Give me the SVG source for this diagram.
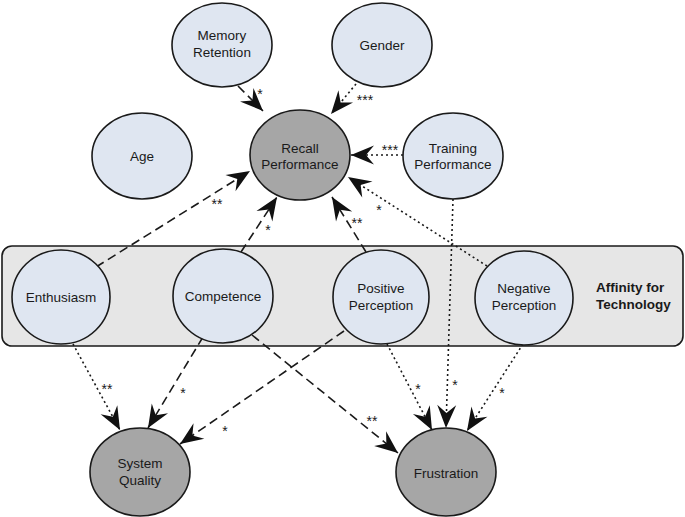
<svg xmlns="http://www.w3.org/2000/svg" width="685" height="517" viewBox="0 0 685 517">
<defs>
<marker id="ah" viewBox="-24 -10 25 20" markerWidth="25" markerHeight="20" refX="0" refY="0" markerUnits="userSpaceOnUse" orient="auto">
<path d="M0,0 L-23,-9.5 L-15,0 L-23,9.5 Z" fill="#111"/>
</marker>
</defs>
<style>
.light{fill:#dfe6f1;stroke:#1a1a1a;stroke-width:1.6}
.dark{fill:#a6a6a6;stroke:#1a1a1a;stroke-width:1.6}
.t{font-family:"Liberation Sans",Arial,sans-serif;font-size:13.5px;fill:#1a1a1a;text-anchor:middle}
.b{font-family:"Liberation Sans",Arial,sans-serif;font-size:13.5px;font-weight:bold;fill:#1a1a1a}
.dash{fill:none;stroke:#1a1a1a;stroke-width:1.6;stroke-dasharray:9 5;marker-end:url(#ah)}
.dot{fill:none;stroke:#1a1a1a;stroke-width:1.6;stroke-dasharray:2 3;marker-end:url(#ah)}
.s{font-family:"Liberation Sans",Arial,sans-serif;font-size:14px;fill:#1a1a1a;text-anchor:middle}
</style>
<rect width="685" height="517" fill="#fff"/>
<g id="affinity">
<rect x="2" y="246" width="681" height="100" rx="10" fill="#e6e6e6" stroke="#1a1a1a" stroke-width="1.6"/>
<text class="b" x="596" y="292">Affinity for</text>
<text class="b" x="596" y="309">Technology</text>
</g>
<g id="connectors">
<line class="dash" x1="238" y1="86" x2="263" y2="111"/>
<line class="dot" x1="356" y1="84" x2="331" y2="114"/>
<line class="dot" x1="403" y1="155" x2="351" y2="155"/>
<line class="dot" x1="487" y1="266" x2="348" y2="177"/>
<line class="dash" x1="366" y1="252" x2="332" y2="197"/>
<line class="dash" x1="241" y1="252" x2="277" y2="197"/>
<line class="dash" x1="96" y1="267" x2="250" y2="171"/>
<line class="dot" x1="453" y1="199" x2="446" y2="428"/>
<line class="dot" x1="73" y1="344" x2="120" y2="430"/>
<line class="dash" x1="203" y1="337" x2="148" y2="428"/>
<line class="dash" x1="344" y1="331" x2="180" y2="444"/>
<line class="dash" x1="252" y1="335" x2="398" y2="453"/>
<line class="dot" x1="387" y1="344" x2="432" y2="430"/>
<line class="dot" x1="523" y1="344" x2="467" y2="431"/>
<text class="s" x="260" y="99">*</text>
<text class="s" x="365" y="105">***</text>
<text class="s" x="390" y="155">***</text>
<text class="s" x="379" y="215">*</text>
<text class="s" x="357" y="228">**</text>
<text class="s" x="268" y="235">*</text>
<text class="s" x="217" y="209">**</text>
<text class="s" x="455" y="390">*</text>
<text class="s" x="107" y="394">**</text>
<text class="s" x="183" y="398">*</text>
<text class="s" x="225" y="436">*</text>
<text class="s" x="372" y="426">**</text>
<text class="s" x="418" y="394">*</text>
<text class="s" x="502" y="398">*</text>
</g>
<g id="memory-retention"><ellipse class="light" cx="222" cy="45" rx="50" ry="42"/><text class="t" x="222" y="40">Memory</text><text class="t" x="222" y="57">Retention</text></g>
<g id="gender"><ellipse class="light" cx="382" cy="45" rx="50" ry="42"/><text class="t" x="382" y="50">Gender</text></g>
<g id="age"><ellipse class="light" cx="142" cy="156" rx="50" ry="43"/><text class="t" x="142" y="161">Age</text></g>
<g id="recall-performance"><ellipse class="dark" cx="300" cy="155" rx="50" ry="45"/><text class="t" x="300" y="153">Recall</text><text class="t" x="300" y="169">Performance</text></g>
<g id="training-performance"><ellipse class="light" cx="453" cy="156" rx="50" ry="43"/><text class="t" x="453" y="153">Training</text><text class="t" x="453" y="169">Performance</text></g>
<g id="enthusiasm"><ellipse class="light" cx="61" cy="297" rx="49" ry="47"/><text class="t" x="61" y="302">Enthusiasm</text></g>
<g id="competence"><ellipse class="light" cx="223" cy="296" rx="50" ry="47"/><text class="t" x="223" y="301">Competence</text></g>
<g id="positive-perception"><ellipse class="light" cx="381" cy="297" rx="48" ry="47"/><text class="t" x="381" y="293">Positive</text><text class="t" x="381" y="310">Perception</text></g>
<g id="negative-perception"><ellipse class="light" cx="524" cy="298" rx="49" ry="47"/><text class="t" x="524" y="293">Negative</text><text class="t" x="524" y="310">Perception</text></g>
<g id="system-quality"><ellipse class="dark" cx="140" cy="472" rx="50" ry="44"/><text class="t" x="140" y="468">System</text><text class="t" x="140" y="485">Quality</text></g>
<g id="frustration"><ellipse class="dark" cx="446" cy="472" rx="50" ry="44"/><text class="t" x="446" y="478">Frustration</text></g>
</svg>
